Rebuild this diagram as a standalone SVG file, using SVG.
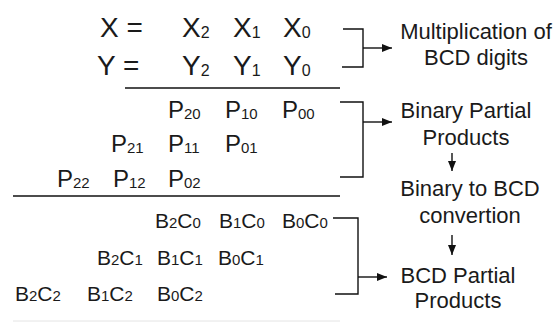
<svg xmlns="http://www.w3.org/2000/svg" width="558" height="322" viewBox="0 0 558 322">
<style>
text{font-family:"Liberation Sans",Arial,sans-serif;fill:#1a1a1a}
.xy{font-size:28px}
.xs{font-size:16px}
.p{font-size:24px}
.ps{font-size:15px}
.b{font-size:21px}
.bs{font-size:15px}
.lbl{font-size:22px;text-anchor:middle}
.ln{stroke:#111;stroke-width:1.4;fill:none}
</style>
<defs>
<marker id="ah" viewBox="0 0 10 8" refX="10" refY="4" markerWidth="10" markerHeight="8" markerUnits="userSpaceOnUse" orient="auto">
<path d="M0,0 L10,4 L0,8 Z" fill="#111"/>
</marker>
</defs>
<rect width="558" height="322" fill="#fff"/>
<g id="operands">
<text class="xy" x="100" y="37">X =</text>
<text class="xy" x="182" y="37">X<tspan class="xs" dy="1">2</tspan></text>
<text class="xy" x="233" y="37">X<tspan class="xs" dy="1">1</tspan></text>
<text class="xy" x="283" y="37">X<tspan class="xs" dy="1">0</tspan></text>
<text class="xy" x="97" y="75">Y =</text>
<text class="xy" x="182" y="75">Y<tspan class="xs" dy="1">2</tspan></text>
<text class="xy" x="233" y="75">Y<tspan class="xs" dy="1">1</tspan></text>
<text class="xy" x="283" y="75">Y<tspan class="xs" dy="1">0</tspan></text>
</g>
<g id="binary-partials">
<text class="p" x="168" y="118">P<tspan class="ps" dy="1">20</tspan></text>
<text class="p" x="225" y="118">P<tspan class="ps" dy="1">10</tspan></text>
<text class="p" x="282" y="118">P<tspan class="ps" dy="1">00</tspan></text>
<text class="p" x="111" y="152">P<tspan class="ps" dy="1">21</tspan></text>
<text class="p" x="168" y="152">P<tspan class="ps" dy="1">11</tspan></text>
<text class="p" x="225" y="152">P<tspan class="ps" dy="1">01</tspan></text>
<text class="p" x="57" y="187">P<tspan class="ps" dy="1">22</tspan></text>
<text class="p" x="113" y="187">P<tspan class="ps" dy="1">12</tspan></text>
<text class="p" x="168" y="187">P<tspan class="ps" dy="1">02</tspan></text>
</g>
<g id="bcd-partials">
<text class="b" x="155" y="228">B<tspan class="bs">2</tspan>C<tspan class="bs">0</tspan></text>
<text class="b" x="219" y="228">B<tspan class="bs">1</tspan>C<tspan class="bs">0</tspan></text>
<text class="b" x="282" y="228">B<tspan class="bs">0</tspan>C<tspan class="bs">0</tspan></text>
<text class="b" x="97" y="265">B<tspan class="bs">2</tspan>C<tspan class="bs">1</tspan></text>
<text class="b" x="157" y="265">B<tspan class="bs">1</tspan>C<tspan class="bs">1</tspan></text>
<text class="b" x="218" y="265">B<tspan class="bs">0</tspan>C<tspan class="bs">1</tspan></text>
<text class="b" x="15" y="301">B<tspan class="bs">2</tspan>C<tspan class="bs">2</tspan></text>
<text class="b" x="87" y="301">B<tspan class="bs">1</tspan>C<tspan class="bs">2</tspan></text>
<text class="b" x="157" y="301">B<tspan class="bs">0</tspan>C<tspan class="bs">2</tspan></text>
</g>
<g id="label-multiplication">
<text class="lbl" x="476" y="39">Multiplication of</text>
<text class="lbl" x="476" y="65">BCD digits</text>
</g>
<g id="label-binary-partial">
<text class="lbl" x="466" y="118">Binary Partial</text>
<text class="lbl" x="466" y="145">Products</text>
</g>
<g id="label-conversion">
<text class="lbl" x="470" y="196">Binary to BCD</text>
<text class="lbl" x="470" y="223">convertion</text>
</g>
<g id="label-bcd-partial">
<text class="lbl" x="458" y="283">BCD Partial</text>
<text class="lbl" x="458" y="308">Products</text>
</g>
<g id="connectors">
<line class="ln" x1="125" y1="88" x2="340" y2="88"/>
<line class="ln" x1="13" y1="196" x2="340" y2="196"/>
<line x1="13" y1="321" x2="340" y2="321" stroke="#e4e4e4" stroke-width="1"/>
<path class="ln" d="M343,29 H363 V67 H342"/>
<line class="ln" x1="363" y1="48" x2="392" y2="48" marker-end="url(#ah)"/>
<path class="ln" d="M340,102 H363 V177 H340"/>
<line class="ln" x1="363" y1="122" x2="392" y2="122" marker-end="url(#ah)"/>
<path class="ln" d="M333,218 H358 V294 H335"/>
<line class="ln" x1="358" y1="277" x2="387" y2="277" marker-end="url(#ah)"/>
<line class="ln" x1="452" y1="153" x2="452" y2="171" marker-end="url(#ah)"/>
<line class="ln" x1="452" y1="235" x2="452" y2="255" marker-end="url(#ah)"/>
</g>
</svg>
